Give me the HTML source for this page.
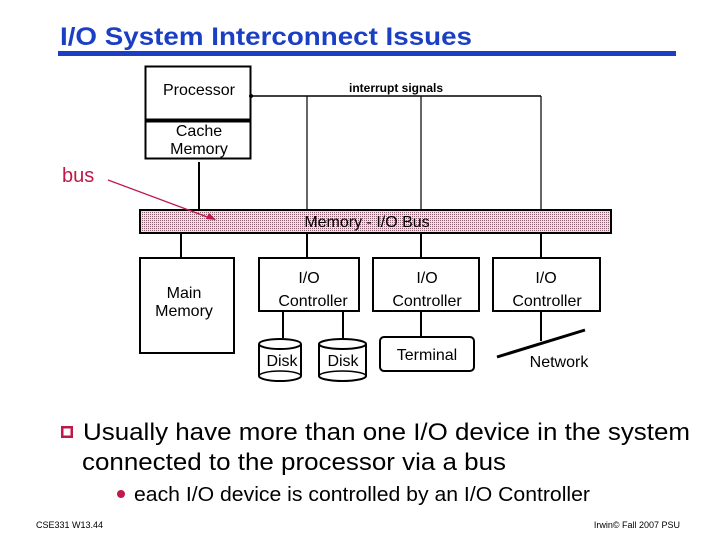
<!DOCTYPE html>
<html><head><meta charset="utf-8"><style>
html,body{margin:0;padding:0;background:#fff;}
svg{display:block;font-family:"Liberation Sans",Arial,sans-serif;}
</style></head><body>
<svg width="720" height="540" viewBox="0 0 720 540" xmlns="http://www.w3.org/2000/svg">
<defs>
<pattern id="dots" width="2" height="2" patternUnits="userSpaceOnUse">
<rect width="2" height="2" fill="#f2dde6"/>
<rect width="1" height="1" fill="#8a6070"/>
</pattern>
</defs>
<text x="60" y="45" font-size="25" font-weight="bold" fill="#1a3fc4" textLength="412" lengthAdjust="spacingAndGlyphs">I/O System Interconnect Issues</text>
<rect x="58" y="51" width="618" height="5" fill="#1a3fc4"/>

<g stroke="#000" fill="none">
<rect x="145.5" y="66.5" width="105" height="53" stroke-width="2"/>
<rect x="145.5" y="121.5" width="105" height="37" stroke-width="2"/>
<line x1="251" y1="96" x2="541" y2="96" stroke-width="1.5"/>
<line x1="307" y1="96" x2="307" y2="210" stroke-width="1.2"/>
<line x1="421" y1="96" x2="421" y2="210" stroke-width="1.2"/>
<line x1="541" y1="96" x2="541" y2="210" stroke-width="1.2"/>
<line x1="199" y1="162" x2="199" y2="210" stroke-width="2"/>
</g>
<circle cx="251" cy="96" r="2" fill="#000"/>
<rect x="140" y="210" width="471" height="23" fill="url(#dots)" stroke="#000" stroke-width="2"/>
<text x="367" y="227" font-size="16" text-anchor="middle">Memory - I/O Bus</text>
<text x="199" y="95" font-size="16" text-anchor="middle">Processor</text>
<text x="396" y="92" font-size="12" font-weight="bold" text-anchor="middle">interrupt signals</text>
<text x="199" y="136" font-size="16" text-anchor="middle">Cache</text>
<text x="199" y="154" font-size="16" text-anchor="middle">Memory</text>
<text x="62" y="182" font-size="20" fill="#c0184a">bus</text>
<line x1="108" y1="180" x2="210" y2="218" stroke="#c0184a" stroke-width="1.3"/>
<polygon points="216,220 206,219 209,213" fill="#c0184a"/>

<g stroke="#000" stroke-width="2" fill="none">
<line x1="181" y1="233" x2="181" y2="258"/>
<line x1="307" y1="233" x2="307" y2="258"/>
<line x1="421" y1="233" x2="421" y2="258"/>
<line x1="541" y1="233" x2="541" y2="258"/>
<rect x="140" y="258" width="94" height="95"/>
<rect x="259" y="258" width="100" height="53"/>
<rect x="373" y="258" width="106" height="53"/>
<rect x="493" y="258" width="107" height="53"/>
<line x1="283" y1="311" x2="283" y2="338"/>
<line x1="343" y1="311" x2="343" y2="338"/>
<line x1="421" y1="311" x2="421" y2="337"/>
<line x1="541" y1="311" x2="541" y2="341"/>
<rect x="380" y="337" width="94" height="34" rx="4"/>
<path d="M259,344 v32 a21,5 0 0 0 42,0 v-32 a21,5 0 0 0 -42,0 a21,5 0 0 0 42,0"/>
<path d="M259,376 a21,5 0 0 1 42,0" stroke-width="1.5"/>
<path d="M319,344 v32 a23.5,5 0 0 0 47,0 v-32 a23.5,5 0 0 0 -47,0 a23.5,5 0 0 0 47,0"/>
<path d="M319,376 a23.5,5 0 0 1 47,0" stroke-width="1.5"/>
<line x1="497" y1="357" x2="585" y2="330" stroke-width="3"/>
</g>
<g font-size="16" text-anchor="middle">
<text x="184" y="298">Main</text><text x="184" y="316">Memory</text>
<text x="309" y="283">I/O</text><text x="313" y="306">Controller</text>
<text x="427" y="283">I/O</text><text x="427" y="306">Controller</text>
<text x="546" y="283">I/O</text><text x="547" y="306">Controller</text>
<text x="282" y="366">Disk</text><text x="343" y="366">Disk</text>
<text x="427" y="360">Terminal</text>
<text x="559" y="367">Network</text>
</g>

<rect x="61" y="426" width="12" height="12" fill="#c0184a"/>
<rect x="63.5" y="428.5" width="7" height="7" fill="#fff"/>
<text x="83" y="440" font-size="24" textLength="607" lengthAdjust="spacingAndGlyphs">Usually have more than one I/O device in the system</text>
<text x="82" y="470" font-size="24" textLength="424" lengthAdjust="spacingAndGlyphs">connected to the processor via a bus</text>
<circle cx="121" cy="494" r="4" fill="#c0184a"/>
<text x="134" y="501" font-size="20" textLength="456" lengthAdjust="spacingAndGlyphs">each I/O device is controlled by an I/O Controller</text>
<text x="36" y="528" font-size="9">CSE331  W13.44</text>
<text x="680" y="528" font-size="9" text-anchor="end">Irwin© Fall 2007 PSU</text>
</svg>
</body></html>
